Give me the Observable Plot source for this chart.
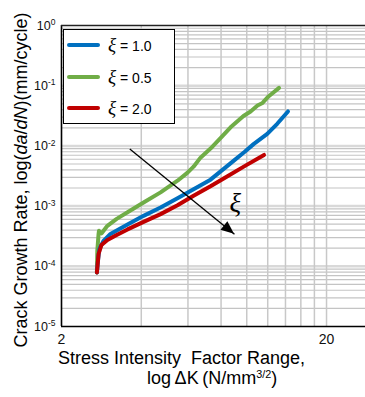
<!DOCTYPE html>
<html>
<head>
<meta charset="utf-8">
<script src="https://cdn.jsdelivr.net/npm/d3@7"></script>
<script src="https://cdn.jsdelivr.net/npm/@observablehq/plot@0.6"></script>
<style>
  html, body { margin: 0; padding: 0; background: #fff; }
  #wrap { position: relative; width: 365px; height: 397px; overflow: hidden;
          font-family: "Liberation Sans", Arial, sans-serif; color: #000; }
  #wrap svg { position: absolute; left: 0; top: 0; }
  .abs { position: absolute; white-space: pre; line-height: 1; }
  .legend { position: absolute; box-sizing: border-box; border: 1.5px solid #000; background: #fff; }
  .lline { position: absolute; height: 4px; border-radius: 2px; }
  .ltext { position: absolute; font-size: 14px; transform: translateY(-50%); white-space: pre; }
  .xi { font-family: "Liberation Serif", "DejaVu Serif", serif; font-style: italic; font-size: 19px; }
  .title { font-size: 18px; }
  sup { font-size: 0.6em; vertical-align: 0.55em; line-height: 0; }
</style>
</head>
<body>
<div id="wrap"></div>
<script>
// ---- data ----
const seriesXi     = ["1.0", "0.5", "2.0"];
const seriesColors = ["#0070c0", "#70ad47", "#c00000"];

// ξ = 1.0 (blue)
const dKBlue   = [2.72, 2.75, 2.78, 2.88, 3.06, 3.55, 4.08, 4.73, 5.48, 6.30, 7.30, 8.94, 9.8, 10.64, 11.95, 13.03, 14.31];
const rateBlue = [7.9e-5, 1.32e-4, 1.94e-4, 2.64e-4, 3.45e-4, 4.97e-4, 6.89e-4, 9.48e-4, 1.35e-3, 1.91e-3, 2.75e-3, 5.69e-3, 7.9e-3, 1.08e-2, 1.58e-2, 2.33e-2, 3.73e-2];

// ξ = 0.5 (green)
const dKGreen   = [2.72, 2.73, 2.76, 2.77, 2.83, 2.98, 3.23, 3.55, 4.08, 4.73, 5.48, 5.98, 6.30, 6.69, 7.30, 7.96, 8.69, 9.72, 10.34, 10.98, 11.47, 12.08, 13.24];
const rateGreen = [7.9e-5, 1.8e-4, 3.45e-4, 3.88e-4, 3.52e-4, 4.7e-4, 6.14e-4, 7.88e-4, 1.15e-3, 1.69e-3, 2.64e-3, 3.59e-3, 4.52e-3, 6.38e-3, 9.02e-3, 1.35e-2, 2.04e-2, 3.14e-2, 3.73e-2, 4.69e-2, 5.17e-2, 6.63e-2, 9.19e-2];

// ξ = 2.0 (red)
const dKRed   = [2.72, 2.76, 2.83, 2.98, 3.23, 3.55, 4.08, 4.73, 5.48, 6.30, 7.30, 8.46, 9.89, 11.62];
const rateRed = [7.9e-5, 1.6e-4, 2.26e-4, 2.74e-4, 3.32e-4, 4.1e-4, 5.47e-4, 7.36e-4, 1.03e-3, 1.49e-3, 2.14e-3, 3.14e-3, 4.7e-3, 7.08e-3];

// axes
const xDomain = [2, 28.06];
const yDomain = [1e-5, 1];
const xTicks  = [2, 20];
const xGrid   = [4, 6, 8, 10, 12, 14, 16, 18, 20];
const yTicks  = [1e-5, 1e-4, 1e-3, 1e-2, 1e-1, 1];

// annotation arrow (trend of ξ)
const arrowFrom = [3.62, 8.9e-3];
const arrowTo   = [8.99, 3.4e-4];
const xiLabelPos = [9.05, 1.1e-3];

// ---- chart ----
const yGridAll = d3.scaleLog().domain(yDomain).ticks(10);
const isDecade = v => Math.abs(Math.log10(v) - Math.round(Math.log10(v))) < 1e-9;
const yMinor = yGridAll.filter(v => !isDecade(v));
const yMajor = yGridAll.filter(v => isDecade(v) && v > yDomain[0] && v < yDomain[1]);

const series = [
  {dK: dKGreen, rate: rateGreen, color: seriesColors[1]},
  {dK: dKBlue,  rate: rateBlue,  color: seriesColors[0]},
  {dK: dKRed,   rate: rateRed,   color: seriesColors[2]}
];

const chart = Plot.plot({
  width: 365,
  height: 397,
  marginLeft: 61,
  marginRight: 0,
  marginTop: 25,
  marginBottom: 71,
  style: {fontFamily: "'Liberation Sans', Arial, sans-serif", fontSize: "13px", color: "#000", background: "transparent"},
  x: {type: "log", domain: xDomain, ticks: xTicks, tickSize: 0, tickPadding: 8, tickFormat: d => String(d), label: null},
  y: {type: "log", domain: yDomain, ticks: yTicks, tickSize: 0, tickPadding: 6,
      tickFormat: d => "10^" + Math.round(Math.log10(d)), label: null},
  marks: [
    Plot.ruleY(yMinor, {stroke: "#c4c4c4", strokeWidth: 1.2}),
    Plot.ruleY(yMajor, {stroke: "#d9d9d9", strokeWidth: 2.5}),
    Plot.ruleX(xGrid, {stroke: "#c8c8c8", strokeWidth: 1.5}),
    Plot.ruleX([xDomain[0]], {stroke: "#000", strokeWidth: 1.6}),
    Plot.ruleY([yDomain[0]], {stroke: "#000", strokeWidth: 1.6}),
    Plot.ruleY([yDomain[1]], {stroke: "#222", strokeWidth: 1.5}),
    ...series.map(s => Plot.line(s.rate, {x: s.dK, y: s.rate, stroke: s.color, strokeWidth: 4,
                                          strokeLinejoin: "round", strokeLinecap: "round"})),
    Plot.link([0], {x1: () => arrowFrom[0], y1: () => arrowFrom[1], x2: () => arrowTo[0], y2: () => arrowTo[1],
                    stroke: "#000", strokeWidth: 1.3}),
    Plot.text(["ξ"], {x: () => xiLabelPos[0], y: () => xiLabelPos[1], text: d => d,
                      fontFamily: "'Liberation Serif', 'DejaVu Serif', serif", fontStyle: "italic", fontSize: 27, fill: "#000"})
  ]
});

// tick label styling: superscript exponents on y, sizes
d3.select(chart).selectAll("text").each(function() {
  const t = this.textContent;
  const m = /^10\^(-?\d+)$/.exec(t);
  if (m) {
    const sel = d3.select(this);
    sel.text("10").attr("font-size", 12.5).attr("fill", "#111");
    sel.append("tspan").attr("dy", "-0.5em").attr("font-size", 8.5).text(m[1]);
  } else if (xTicks.map(String).includes(t)) {
    d3.select(this).attr("font-size", 14).attr("fill", "#111");
  }
});

// filled arrowhead at the end of the link, placed through the plot's scales
{
  const sx = chart.scale("x"), sy = chart.scale("y");
  const x1 = sx.apply(arrowFrom[0]), y1 = sy.apply(arrowFrom[1]);
  const x2 = sx.apply(arrowTo[0]),   y2 = sy.apply(arrowTo[1]);
  const len = Math.hypot(x2 - x1, y2 - y1);
  const ux = (x2 - x1) / len, uy = (y2 - y1) / len;
  const hl = 13, hw = 5.5;
  const bx = x2 - ux * hl, by = y2 - uy * hl;
  const pts = [[x2, y2], [bx - uy * hw, by + ux * hw], [bx + uy * hw, by - ux * hw]];
  d3.select(chart).append("polygon").attr("points", pts.map(p => p.join(",")).join(" ")).attr("fill", "#000");
}

const wrap = document.getElementById("wrap");
wrap.appendChild(chart);

// legend (inside the plot area)
const legendRows = [45, 77, 108];
const leg = document.createElement("div");
leg.className = "legend";
Object.assign(leg.style, {left: "63px", top: "29px", width: "112px", height: "95px"});
wrap.appendChild(leg);
[0, 1, 2].forEach((i, k) => {
  const ln = document.createElement("div");
  ln.className = "lline";
  Object.assign(ln.style, {left: "67px", top: (legendRows[k] - 2) + "px", width: "33px", background: seriesColors[i]});
  wrap.appendChild(ln);
  const tx = document.createElement("div");
  tx.className = "ltext";
  Object.assign(tx.style, {left: "108px", top: legendRows[k] + "px"});
  tx.innerHTML = '<span class="xi">ξ</span> = ' + seriesXi[i];
  wrap.appendChild(tx);
});

// axis titles
const yt = document.createElement("div");
yt.className = "abs title";
Object.assign(yt.style, {left: "20.5px", top: "180px", transform: "translate(-50%,-50%) rotate(-90deg)"});
yt.innerHTML = "Crack Growth Rate, log(<i>da</i>/<i>dN</i>)(mm/cycle)";
wrap.appendChild(yt);

const xt1 = document.createElement("div");
xt1.className = "abs title";
Object.assign(xt1.style, {left: "58px", top: "358px", transform: "translateY(-50%)"});
xt1.textContent = "Stress Intensity  Factor Range,";
wrap.appendChild(xt1);

const xt2 = document.createElement("div");
xt2.className = "abs title";
Object.assign(xt2.style, {left: "147px", top: "378px", transform: "translateY(-50%)"});
xt2.innerHTML = "log\u2009ΔK\u2009(N/mm<sup>3/2</sup>)";
wrap.appendChild(xt2);
</script>
</body>
</html>
